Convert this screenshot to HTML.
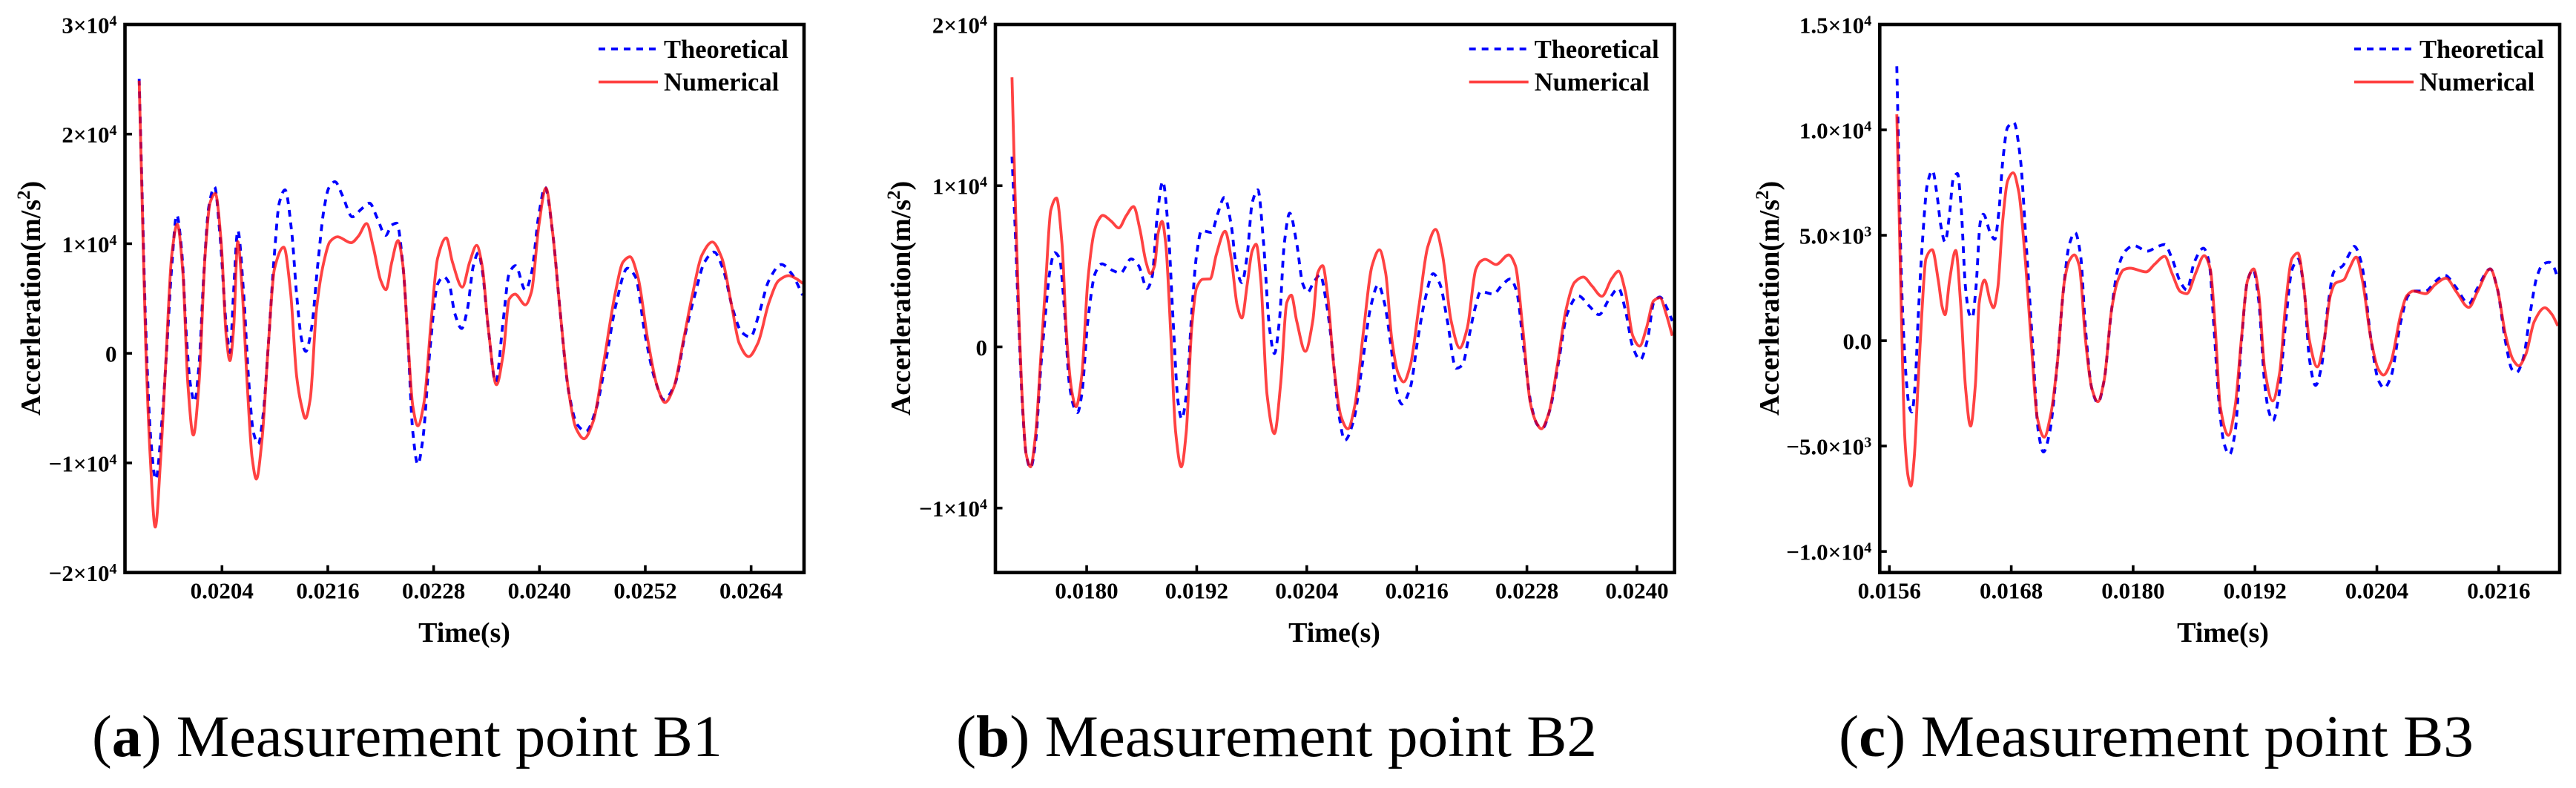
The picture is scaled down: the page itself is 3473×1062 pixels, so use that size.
<!DOCTYPE html>
<html lang="en">
<head>
<meta charset="utf-8">
<title>Acceleration at measurement points B1, B2 and B3</title>
<style>
  html, body { margin: 0; padding: 0; background: #fff; }
  svg { display: block; }
  text { font-family: "Liberation Serif", serif; fill: #000; }
  .tick { font-size: 31px; font-weight: bold; }
  .title { font-size: 38px; font-weight: bold; }
  .legend { font-size: 34.5px; font-weight: bold; }
  .caption { font-size: 79px; }
</style>
</head>
<body>
<svg id="figure" xmlns="http://www.w3.org/2000/svg" width="3473" height="1062" viewBox="0 0 3473 1062">
  <rect x="0" y="0" width="3473" height="1062" fill="#fff"/>
</svg>
<script>
// ---- Panel (a), measurement point B1: time in ms, acceleration in m/s^2 ----
const b1XTicks = ['0.0204', '0.0216', '0.0228', '0.0240', '0.0252', '0.0264'];
const b1YTickValues = [30000, 20000, 10000, 0, -10000, -20000];
const b1YTickLabels = ['3×10', '2×10', '1×10', '0', '−1×10', '−2×10'];
const b1YTickExps = ['4', '4', '4', '', '4', '4'];

const b1NumericalTime = [19.461,19.494,19.536,19.587,19.643,19.705,19.761,19.831,19.893,19.957,20.013,20.075,20.139,20.209,20.265,20.324,20.392,20.448,20.490,20.532,20.579,20.630,20.686,20.742,20.790,20.854,20.924,20.994,21.101,21.177,21.247,21.303,21.345,21.401,21.471,21.555,21.625,21.709,21.864,21.948,22.040,22.116,22.200,22.259,22.326,22.396,22.452,22.508,22.564,22.621,22.691,22.775,22.845,22.943,23.013,23.125,23.209,23.288,23.350,23.420,23.512,23.588,23.658,23.722,23.840,23.910,23.994,24.073,24.149,24.233,24.331,24.415,24.505,24.611,24.723,24.863,24.948,25.026,25.116,25.228,25.340,25.424,25.522,25.634,25.733,25.845,25.960,26.069,26.181,26.265,26.372,26.476,26.602,26.714,26.826,26.910,26.986];
const b1NumericalAccel = [24866,14070,574,-9548,-15858,-9548,-1113,9009,11775,7322,-2800,-7457,-2800,9009,13732,14576,10021,1586,-675,2261,10189,5635,-2800,-9548,-11472,-7861,574,7659,9683,5635,-2126,-4825,-5938,-4150,3948,8334,10189,10628,10088,10696,11843,9683,6647,5803,8334,10291,7996,1248,-4825,-6613,-4487,3273,8671,10527,8334,6039,8334,9852,7996,2261,-2868,-101,4960,5398,4420,5635,11708,15082,11033,3948,-3475,-6849,-7794,-6174,-1113,5635,8334,8806,6984,1248,-3138,-4487,-3138,1248,5297,9009,10156,8671,4285,911,-304,911,4622,6647,7085,6815,6377];

const b1TheoreticalTime = [19.461,19.494,19.536,19.593,19.649,19.719,19.775,19.831,19.887,19.943,19.999,20.041,20.089,20.139,20.195,20.251,20.316,20.378,20.448,20.490,20.532,20.579,20.644,20.700,20.756,20.812,20.868,20.924,20.994,21.050,21.115,21.191,21.247,21.303,21.350,21.415,21.485,21.555,21.611,21.681,21.765,21.878,21.976,22.074,22.158,22.256,22.326,22.382,22.452,22.508,22.564,22.621,22.677,22.761,22.845,22.915,22.971,23.041,23.117,23.181,23.251,23.307,23.350,23.420,23.504,23.588,23.658,23.728,23.840,23.910,23.994,24.064,24.149,24.233,24.331,24.429,24.527,24.639,24.751,24.863,24.998,25.088,25.200,25.312,25.410,25.536,25.648,25.761,25.873,25.979,26.083,26.195,26.293,26.392,26.490,26.602,26.742,26.854,26.986];
const b1TheoreticalAccel = [25035,14744,2261,-7861,-11505,-6174,574,7996,12619,9346,1248,-2800,-4420,-1113,7322,13395,15183,10696,2598,67,5635,11202,5635,-2126,-7187,-8266,-5500,574,9009,13732,14913,11033,5297,1248,169,2261,7996,13057,15082,15655,14407,12450,13125,13698,12383,10763,11708,11876,7996,1248,-7187,-10122,-7861,574,6309,6984,6478,3610,2261,3948,7996,9177,7659,2261,-2632,2935,7322,7996,5770,7322,12720,15149,11033,3948,-3475,-6512,-7119,-5162,-776,4285,7760,6984,1586,-2463,-4218,-2800,1586,5297,8334,9245,7659,3948,1923,1485,3610,6647,8098,7322,5297];

// ---- Panel (b), measurement point B2 ----
const b2XTicks = ['0.0180', '0.0192', '0.0204', '0.0216', '0.0228', '0.0240'];
const b2YTickValues = [20000, 10000, 0, -10000];
const b2YTickLabels = ['2×10', '1×10', '0', '−1×10'];
const b2YTickExps = ['4', '4', '', '4'];

const b2NumericalTime = [17.186,17.219,17.259,17.300,17.340,17.388,17.442,17.502,17.555,17.609,17.671,17.731,17.784,17.838,17.884,17.946,18.013,18.081,18.121,18.175,18.269,18.350,18.431,18.512,18.579,18.647,18.695,18.741,18.781,18.822,18.862,18.916,18.970,19.032,19.086,19.145,19.199,19.266,19.347,19.414,19.509,19.576,19.643,19.692,19.751,19.805,19.848,19.899,19.967,20.047,20.115,20.182,20.231,20.290,20.384,20.465,20.519,20.573,20.627,20.694,20.775,20.848,20.923,21.017,21.112,21.192,21.260,21.327,21.394,21.456,21.529,21.623,21.718,21.804,21.879,21.974,22.068,22.149,22.243,22.297,22.345,22.464,22.601,22.674,22.755,22.836,22.903,22.957,23.038,23.132,23.226,23.321,23.415,23.509,23.617,23.725,23.800,23.873,23.954,24.029,24.102,24.183,24.250,24.317,24.385];
const b2NumericalAccel = [16724,9622,2291,-3437,-6644,-7446,-5498,-458,4124,8477,9233,6415,458,-2749,-3711,-1833,4124,7102,7789,8156,7789,7377,8133,8706,7331,5269,4536,5040,7102,7789,6415,916,-5269,-7446,-5269,1146,3666,4193,4215,5728,7171,5498,2520,1787,3895,5957,6369,4124,-2978,-5384,-2291,2749,3207,1604,-275,1604,4582,5040,3207,-1146,-4353,-5086,-3666,916,5040,6025,4582,458,-1604,-2176,-1146,2520,6186,7285,5728,1604,-69,1146,4811,5315,5430,5109,5705,5040,1146,-3437,-4697,-5086,-4124,-1146,2291,4009,4330,3780,3139,4238,4697,3437,687,46,1146,2864,3047,2062,687];

const b2TheoreticalTime = [17.186,17.219,17.259,17.300,17.340,17.388,17.442,17.502,17.555,17.596,17.650,17.704,17.758,17.811,17.865,17.900,17.946,18.013,18.094,18.167,18.283,18.369,18.485,18.566,18.660,18.714,18.768,18.830,18.889,18.943,18.997,19.037,19.091,19.145,19.199,19.253,19.360,19.428,19.503,19.576,19.630,19.692,19.751,19.805,19.867,19.926,19.994,20.047,20.101,20.155,20.214,20.290,20.357,20.411,20.465,20.546,20.613,20.667,20.748,20.815,20.910,21.004,21.098,21.179,21.246,21.314,21.381,21.435,21.529,21.610,21.691,21.777,21.852,21.933,22.028,22.095,22.162,22.230,22.297,22.432,22.539,22.620,22.688,22.768,22.849,22.917,22.970,23.051,23.146,23.240,23.361,23.482,23.585,23.698,23.800,23.873,23.954,24.035,24.115,24.183,24.250,24.317,24.385];
const b2TheoreticalAccel = [11799,7560,1604,-3666,-6644,-7514,-5957,-1146,2291,4582,5842,5498,2291,-2291,-3780,-4078,-2978,1604,4582,5155,4742,4582,5453,5040,3620,4353,8019,10264,7331,1604,-3437,-4467,-2749,2062,5728,7217,7102,8248,9279,7560,5040,3986,5728,8935,9737,6644,1146,-412,1604,6415,8293,6415,3895,3391,3895,4467,2749,458,-4124,-5796,-4582,-1146,2520,3849,2749,229,-2749,-3551,-2520,458,2978,4536,3895,1604,-1329,-1146,458,2291,3437,3276,3895,4215,3437,-229,-3666,-4857,-5040,-3895,-916,2062,3162,2520,1993,2978,3620,2291,0,-802,458,2749,3093,2520,1604];

// ---- Panel (c), measurement point B3 ----
const b3XTicks = ['0.0156', '0.0168', '0.0180', '0.0192', '0.0204', '0.0216'];
const b3YTickValues = [15000, 10000, 5000, 0, -5000, -10000];
const b3YTickLabels = ['1.5×10', '1.0×10', '5.0×10', '0.0', '−5.0×10', '−1.0×10'];
const b3YTickExps = ['4', '4', '3', '', '3', '4'];

const b3NumericalTime = [15.673,15.693,15.717,15.753,15.785,15.812,15.844,15.882,15.917,15.960,16.021,16.082,16.119,16.148,16.192,16.253,16.301,16.350,16.399,16.447,16.484,16.537,16.593,16.625,16.667,16.715,16.764,16.818,16.874,16.934,16.995,17.056,17.124,17.190,17.251,17.324,17.373,17.421,17.470,17.531,17.592,17.653,17.714,17.787,17.848,17.908,17.969,18.128,18.213,18.310,18.383,18.468,18.529,18.615,18.700,18.761,18.809,18.858,18.938,19.004,19.065,19.126,19.187,19.235,19.296,19.374,19.442,19.503,19.564,19.623,19.674,19.735,19.813,19.881,19.942,19.990,20.076,20.124,20.197,20.258,20.343,20.416,20.465,20.538,20.636,20.696,20.757,20.879,20.976,21.081,21.183,21.305,21.390,21.517,21.585,21.670,21.744,21.797,21.865,21.950,22.053,22.121,22.182];
const b3NumericalAccel = [10737,6702,1439,-4702,-6456,-6895,-5579,-2070,1088,3895,4316,2842,1614,1228,2842,4281,1789,-2246,-4053,-2070,1789,2877,1877,1561,2491,5649,7579,7965,7053,4070,35,-3649,-4579,-3474,-1193,2842,3807,4070,3544,35,-2246,-2895,-1895,1439,2842,3368,3439,3263,3632,4000,3193,2316,2228,3193,4035,3368,561,-3123,-4491,-3123,35,2842,3404,2316,-1368,-2860,-1544,1789,3895,4158,2842,35,-1246,35,2140,2719,2895,3368,3965,2842,35,-1368,-1632,-1018,1263,2140,2351,2228,2667,2965,2316,1579,2316,3404,2491,211,-930,-1193,-667,912,1561,1263,702];

const b3TheoreticalTime = [15.673,15.693,15.717,15.741,15.770,15.795,15.822,15.851,15.887,15.924,15.973,16.024,16.070,16.106,16.148,16.192,16.228,16.270,16.306,16.350,16.387,16.416,16.452,16.496,16.525,16.593,16.637,16.679,16.715,16.764,16.825,16.886,16.947,17.007,17.068,17.117,17.178,17.251,17.312,17.373,17.429,17.482,17.531,17.592,17.653,17.714,17.787,17.848,17.921,18.006,18.140,18.237,18.310,18.383,18.468,18.529,18.602,18.692,18.748,18.797,18.846,18.895,18.948,19.004,19.065,19.126,19.182,19.235,19.296,19.333,19.377,19.430,19.503,19.564,19.625,19.686,19.735,19.796,19.856,19.917,19.978,20.063,20.124,20.178,20.246,20.343,20.416,20.472,20.538,20.636,20.709,20.770,20.879,20.976,21.069,21.171,21.305,21.390,21.517,21.585,21.670,21.731,21.775,21.841,21.914,21.975,22.036,22.097,22.145,22.182];
const b3TheoreticalAccel = [13018,8456,3193,211,-2070,-3123,-3386,-2246,1439,4597,7404,8070,6877,5474,4684,6000,7667,7930,6351,2491,1263,1088,2491,5649,6000,5123,4807,6175,8456,10123,10351,8807,4597,35,-4351,-5281,-4351,-1193,2316,4597,5123,4070,561,-2246,-2947,-1895,1439,3368,4246,4509,4246,4456,4561,3895,2754,2404,3719,4386,3719,561,-2947,-4877,-5404,-4351,-140,2842,3368,1965,-2070,-3298,-3790,-2772,912,3368,3860,2316,-842,-2123,-1193,1614,3281,3544,4070,4474,3719,35,-1895,-2246,-1719,912,2140,2351,2351,2807,3105,2579,1754,2491,3404,2491,-140,-1368,-1509,-842,1439,3018,3632,3719,3456,2930];

const seriesNames = ['Theoretical', 'Numerical'];

const SVG_NS = 'http://www.w3.org/2000/svg';
const figure = document.getElementById('figure');
const FRAME_TOP = 33;
const FRAME_BOTTOM = 771.6;
const BLUE = '#0000ff';
const RED = '#ff0000';
const RED_OPACITY = 0.74;
const DASH = '9 8';

function svgEl(tag, attrs, parent) {
  const el = document.createElementNS(SVG_NS, tag);
  for (const k in attrs) el.setAttribute(k, attrs[k]);
  parent.appendChild(el);
  return el;
}

function linearScale(d0, d1, r0, r1) {
  return v => r0 + (v - d0) / (d1 - d0) * (r1 - r0);
}

// Monotone cubic path through the plotted points.
function monotonePath(px, py) {
  const n = px.length;
  const dx = [], s = [], m = new Array(n);
  for (let i = 0; i < n - 1; i++) {
    dx[i] = px[i + 1] - px[i];
    s[i] = (py[i + 1] - py[i]) / dx[i];
  }
  m[0] = s[0];
  m[n - 1] = s[n - 2];
  for (let i = 1; i < n - 1; i++) {
    if (s[i - 1] * s[i] <= 0) m[i] = 0;
    else {
      const w1 = 2 * dx[i] + dx[i - 1], w2 = dx[i] + 2 * dx[i - 1];
      m[i] = (w1 + w2) / (w1 / s[i - 1] + w2 / s[i]);
    }
  }
  let d = 'M' + px[0].toFixed(2) + ' ' + py[0].toFixed(2);
  for (let i = 0; i < n - 1; i++) {
    const h = dx[i] / 3;
    d += 'C' + (px[i] + h).toFixed(2) + ' ' + (py[i] + m[i] * h).toFixed(2) + ' ' +
         (px[i + 1] - h).toFixed(2) + ' ' + (py[i + 1] - m[i + 1] * h).toFixed(2) + ' ' +
         px[i + 1].toFixed(2) + ' ' + py[i + 1].toFixed(2);
  }
  return d;
}

function drawPanel(p) {
  const g = svgEl('g', {}, figure);
  
  

  const x = linearScale(p.tMin, p.tMax, p.left, p.right);
  const y = linearScale(p.yMax, p.yMin, FRAME_TOP, FRAME_BOTTOM);

  // clip region for the curves
  const clip = svgEl('clipPath', { id: 'clip-' + p.id }, g);
  svgEl('rect', { x: p.left, y: FRAME_TOP, width: p.right - p.left, height: FRAME_BOTTOM - FRAME_TOP }, clip);

  // series
  const lineTheo = svgEl('path', {
    d: monotonePath(p.theoT.map(x), p.theoA.map(y)), fill: 'none', stroke: BLUE,
    'stroke-width': 3.8, 'stroke-dasharray': DASH, 'clip-path': 'url(#clip-' + p.id + ')'
  }, g);
  
  

  const lineNum = svgEl('path', {
    d: monotonePath(p.numT.map(x), p.numA.map(y)), fill: 'none', stroke: RED, 'stroke-opacity': RED_OPACITY,
    'stroke-width': 3.8, 'stroke-linejoin': 'round', 'clip-path': 'url(#clip-' + p.id + ')'
  }, g);
  
  

  // frame
  const frame = svgEl('rect', {
    x: p.left, y: FRAME_TOP, width: p.right - p.left, height: FRAME_BOTTOM - FRAME_TOP,
    fill: 'none', stroke: '#000', 'stroke-width': 4.6
  }, g);
  
  

  // x ticks
  p.xTicks.forEach(label => {
    const tx = x(parseFloat(label) * 1000);
    const tick = svgEl('line', { x1: tx, x2: tx, y1: FRAME_BOTTOM, y2: FRAME_BOTTOM - 9.8, stroke: '#000', 'stroke-width': 3.6 }, g);
    
    
    const t = svgEl('text', { x: tx, y: 806.7, 'text-anchor': 'middle', class: 'tick' }, g);
    t.textContent = label;
    
    
  });

  // y ticks
  p.yValues.forEach((v, i) => {
    const ty = y(v);
    const tick = svgEl('line', { x1: p.left, x2: p.left + 9.5, y1: ty, y2: ty, stroke: '#000', 'stroke-width': 3.6 }, g);
    
    
    const t = svgEl('text', { x: p.left - 11, y: ty + 11.5, 'text-anchor': 'end', class: 'tick' }, g);
    
    
    const base = svgEl('tspan', {}, t);
    base.textContent = p.yLabels[i];
    if (p.yExps[i]) {
      const sup = svgEl('tspan', { dy: -10, 'font-size': 20 }, t);
      sup.textContent = p.yExps[i];
    }
  });

  // axis titles
  const xTitle = svgEl('text', { x: p.xTitleX, y: 865, 'text-anchor': 'middle', class: 'title' }, g);
  xTitle.textContent = 'Time(s)';
  
  

  const yTitle = svgEl('text', {
    transform: 'translate(' + p.yTitleX + ' 402) rotate(-90)', 'text-anchor': 'middle', class: 'title'
  }, g);
  
  
  const yt1 = svgEl('tspan', {}, yTitle);
  yt1.textContent = 'Accerleration(m/s';
  const yt2 = svgEl('tspan', { dy: -14, 'font-size': 25 }, yTitle);
  yt2.textContent = '2';
  const yt3 = svgEl('tspan', { dy: 14 }, yTitle);
  yt3.textContent = ')';

  // legend
  const lx = p.right - 277;
  const legTheo = svgEl('line', { x1: lx, x2: lx + 77, y1: 66, y2: 66, stroke: BLUE, 'stroke-width': 3.8, 'stroke-dasharray': DASH }, g);
  
  
  const legNum = svgEl('line', { x1: lx, x2: lx + 80, y1: 110.5, y2: 110.5, stroke: RED, 'stroke-opacity': RED_OPACITY, 'stroke-width': 3.8 }, g);
  
  
  const legText1 = svgEl('text', { x: p.right - 189, y: 78, class: 'legend' }, g);
  legText1.textContent = seriesNames[0];
  
  
  const legText2 = svgEl('text', { x: p.right - 189, y: 122, class: 'legend' }, g);
  legText2.textContent = seriesNames[1];
  
  

  // caption
  const cap = svgEl('text', { x: p.capX, y: 1019, class: 'caption', textLength: p.capW, lengthAdjust: 'spacingAndGlyphs' }, g);
  
  
  const c1 = svgEl('tspan', {}, cap);
  c1.textContent = '(';
  const c2 = svgEl('tspan', { 'font-weight': 'bold' }, cap);
  c2.textContent = p.capLetter;
  const c3 = svgEl('tspan', {}, cap);
  c3.textContent = ') ' + p.capText;
}

drawPanel({
  id: 'b1', left: 168.5, right: 1084, tMin: 19.3, tMax: 27.0, yMax: 30000, yMin: -20000,
  xTicks: b1XTicks, yValues: b1YTickValues, yLabels: b1YTickLabels, yExps: b1YTickExps,
  theoT: b1TheoreticalTime, theoA: b1TheoreticalAccel, numT: b1NumericalTime, numA: b1NumericalAccel,
  xTitleX: 626, yTitleX: 54, capX: 124, capW: 850, capLetter: 'a', capText: 'Measurement point B1'
});
drawPanel({
  id: 'b2', left: 1342, right: 2257.7, tMin: 17.005, tMax: 24.41, yMax: 20000, yMin: -14000,
  xTicks: b2XTicks, yValues: b2YTickValues, yLabels: b2YTickLabels, yExps: b2YTickExps,
  theoT: b2TheoreticalTime, theoA: b2TheoreticalAccel, numT: b2NumericalTime, numA: b2NumericalAccel,
  xTitleX: 1799, yTitleX: 1227, capX: 1289, capW: 864, capLetter: 'b', capText: 'Measurement point B2'
});
drawPanel({
  id: 'b3', left: 2534.3, right: 3451, tMin: 15.505, tMax: 22.2, yMax: 15000, yMin: -11000,
  xTicks: b3XTicks, yValues: b3YTickValues, yLabels: b3YTickLabels, yExps: b3YTickExps,
  theoT: b3TheoreticalTime, theoA: b3TheoreticalAccel, numT: b3NumericalTime, numA: b3NumericalAccel,
  xTitleX: 2997, yTitleX: 2398, capX: 2479, capW: 856, capLetter: 'c', capText: 'Measurement point B3'
});
</script>
</body>
</html>
